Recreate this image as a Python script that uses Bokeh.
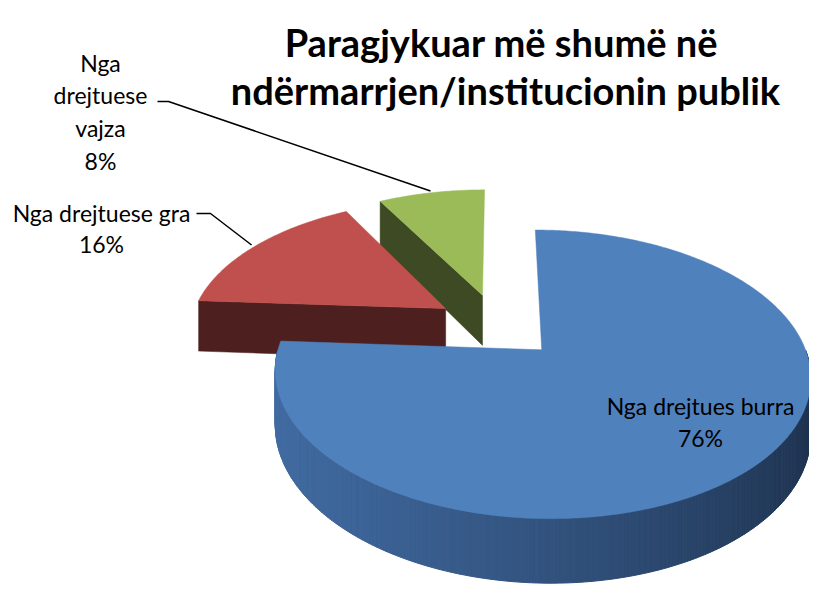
import numpy as np
from bokeh.plotting import figure
from bokeh.models import Range1d
from bokeh.core.properties import value
from bokeh.embed import file_html
from bokeh.resources import INLINE

# ---- data ----
categories = ["Nga drejtues burra", "Nga drejtuese gra", "Nga drejtuese vajza"]
shares = [76, 16, 8]
top_colors = ["#4F81BD", "#C0504D", "#9BBB59"]
wall_colors = ["#416BA2", "#4E1F1F", "#3D4A23"]
wall_dark = ["#1E324E", "#4E1F1F", "#3D4A23"]
title_lines = ["Paragjykuar më shumë në", "ndërmarrjen/institucionin publik"]
label_lines = [["Nga drejtues burra", "76%"],
               ["Nga drejtuese gra", "16%"],
               ["Nga", "drejtuese", "vajza", "8%"]]

# ---- layout / projection parameters ----
CX, CY = 497.0, 325.0
AX, BY = 256.0, 132.0
K = 0.165
EXPLODE = 0.245
DEPTH = 52.0
FONT = "Lato"

def proj(X, Z, down=0.0):
    X = np.asarray(X, dtype=float)
    Z = np.asarray(Z, dtype=float)
    s = 1.0 / (1.0 + K * Z)
    return CX + AX * X * s, CY - BY * Z * s + down * s

def lerp_color(c1, c2, t):
    a = [int(c1[i:i + 2], 16) for i in (1, 3, 5)]
    b = [int(c2[i:i + 2], 16) for i in (1, 3, 5)]
    return "#%02x%02x%02x" % tuple(int(round(a[j] + (b[j] - a[j]) * t)) for j in range(3))

p = figure(width=809, height=584, output_backend="svg", toolbar_location=None,
           x_range=Range1d(0, 809), y_range=Range1d(584, 0),
           min_border=0)
p.axis.visible = False
p.grid.visible = False
p.outline_line_color = None
p.background_fill_color = "white"
p.border_fill_color = "white"

# slice angles (clockwise from 12 o'clock)
total = float(sum(shares))
slices = []
cum = 0.0
for i, v in enumerate(shares):
    a0 = 90.0 - cum / total * 360.0
    a1 = a0 - v / total * 360.0
    cum += v
    mid = np.radians((a0 + a1) / 2.0)
    ox, oz = EXPLODE * np.cos(mid), EXPLODE * np.sin(mid)
    slices.append(dict(i=i, a0=a0, a1=a1, mid=mid, ox=ox, oz=oz))

# far slices first
order = sorted(slices, key=lambda d: -d["oz"])

for sl in order:
    i = sl["i"]
    a0, a1, ox, oz = sl["a0"], sl["a1"], sl["ox"], sl["oz"]
    n = max(8, int(abs(a0 - a1) * 1.5))
    th = np.radians(np.linspace(a0, a1, n))
    arcX = ox + np.cos(th)
    arcZ = oz + np.sin(th)

    # radial walls
    for edge, nrm in ((a0, a0 + 90.0), (a1, a1 - 90.0)):
        if np.sin(np.radians(nrm)) < -0.05:
            e = np.radians(edge)
            Xs = [ox, ox + np.cos(e), ox + np.cos(e), ox]
            Zs = [oz, oz + np.sin(e), oz + np.sin(e), oz]
            downs = [0, 0, DEPTH, DEPTH]
            xs, ys = [], []
            for X, Z, d in zip(Xs, Zs, downs):
                x, y = proj(X, Z, d)
                xs.append(float(x)); ys.append(float(y))
            p.patch(xs, ys, fill_color=wall_colors[i], line_color=wall_colors[i], line_width=0.5)

    # outer curved wall (front part)
    front = np.sin(th) < 0
    qx, qy, qc = [], [], []
    for j in range(n - 1):
        if front[j] and front[j + 1]:
            X0, Z0, X1, Z1 = arcX[j], arcZ[j], arcX[j + 1], arcZ[j + 1]
            x0, y0 = proj(X0, Z0); x1, y1 = proj(X1, Z1)
            x0b, y0b = proj(X0, Z0, DEPTH); x1b, y1b = proj(X1, Z1, DEPTH)
            qx.append([float(x0), float(x1), float(x1b), float(x0b)])
            qy.append([float(y0), float(y1), float(y1b), float(y0b)])
            t = (np.cos((th[j] + th[j + 1]) / 2) + 1) / 2
            qc.append(lerp_color(wall_colors[i], wall_dark[i], t ** 1.2))
    if qx:
        p.patches(qx, qy, fill_color=qc, line_color=qc, line_width=1)

    # top face
    tx, ty = proj(np.concatenate([[ox], arcX]), np.concatenate([[oz], arcZ]))
    p.patch(list(tx), list(ty), fill_color=top_colors[i], line_color=top_colors[i], line_width=0.5)

# ---- title ----
p.text(x=[501, 505], y=[41, 89], text=title_lines, text_font=value(FONT),
       text_font_style="bold", text_font_size="38px", text_align="center",
       text_baseline="alphabetic", text_color="black")

# ---- labels ----
label_pos = {0: (700, 405), 1: (101, 212), 2: (100, 62)}
line_gap = {0: 32, 1: 31, 2: 32.7}
for i, lines in enumerate(label_lines):
    x0, y0 = label_pos[i]
    ys = [y0 + k * line_gap[i] for k in range(len(lines))]
    p.text(x=[x0] * len(lines), y=ys, text=lines, text_font=value(FONT),
           text_font_size="23px", text_align="center", text_baseline="middle",
           text_color="black")

# ---- leader lines to outer labels ----
leader_start = {1: [(196, 213), (210, 213)], 2: [(157, 101), (168, 101)]}
for sl in slices:
    i = sl["i"]
    if i not in leader_start:
        continue
    ex, ey = proj(sl["ox"] + 1.02 * np.cos(sl["mid"]), sl["oz"] + 1.02 * np.sin(sl["mid"]))
    pts = leader_start[i] + [(float(ex), float(ey))]
    p.line([q[0] for q in pts], [q[1] for q in pts], line_color="black", line_width=1.5)

open("out.html", "w").write(file_html(p, INLINE))
